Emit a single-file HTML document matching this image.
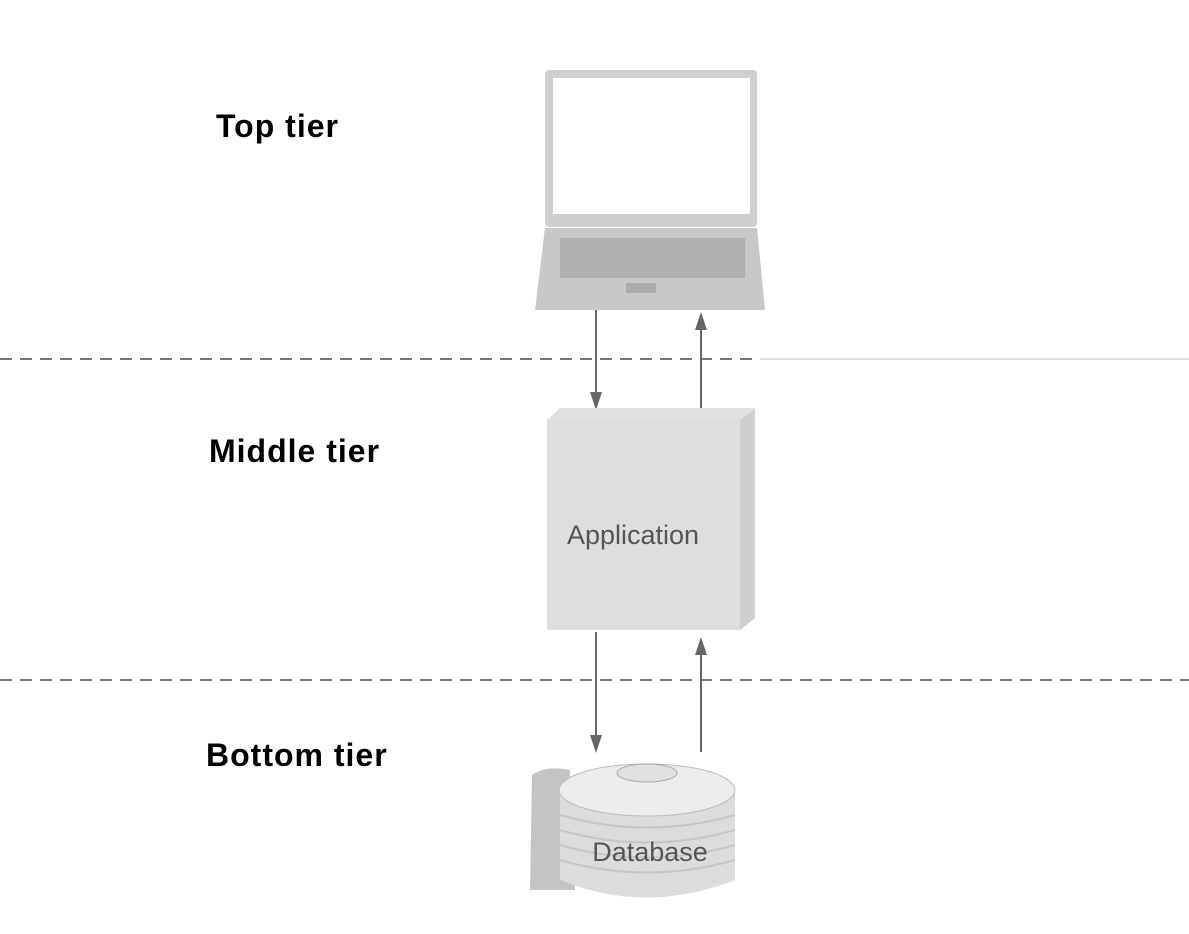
<!DOCTYPE html>
<html><head><style>
body{margin:0;background:#fff;}
svg{display:block}
.lbl{font-family:"Liberation Sans",sans-serif;font-weight:bold;font-size:32px;letter-spacing:1px;fill:#000}
</style></head><body>
<svg width="1189" height="934" viewBox="0 0 1189 934" xmlns="http://www.w3.org/2000/svg">
<text class="lbl" x="216" y="137">Top tier</text>
<text class="lbl" x="209" y="462">Middle tier</text>
<text class="lbl" x="206" y="766">Bottom tier</text>
<!-- dashed lines -->
<line x1="0" y1="359" x2="760" y2="359" stroke="#777" stroke-width="2" stroke-dasharray="12,8"/>
<line x1="760" y1="359" x2="1189" y2="359" stroke="#ddd" stroke-width="2"/>
<line x1="0" y1="680" x2="1189" y2="680" stroke="#777" stroke-width="2" stroke-dasharray="12,8"/>
<!-- laptop -->
<rect x="545" y="70" width="212" height="157" rx="4" fill="#cfcfcf"/>
<rect x="553" y="78" width="197" height="136" fill="#fff"/>
<path d="M545,228 L757,228 L765,310 L535,310 Z" fill="#c8c8c8"/>
<rect x="560" y="238" width="185" height="40" fill="#b0b0b0"/>
<rect x="626" y="283" width="30" height="10" fill="#aaa"/>
<!-- arrows top -->
<line x1="596" y1="310" x2="596" y2="398" stroke="#666" stroke-width="2"/>
<path d="M590,392 L602,392 L596,410 Z" fill="#666"/>
<line x1="701" y1="412" x2="701" y2="325" stroke="#666" stroke-width="2"/>
<path d="M695,330 L707,330 L701,312 Z" fill="#666"/>
<!-- application cube -->
<path d="M740,420 L755,408 L755,618 L740,630 Z" fill="#cfcfcf"/>
<path d="M547,420 L560,408 L755,408 L740,420 Z" fill="#e0e0e0"/>
<rect x="547" y="420" width="193" height="210" fill="#dedede"/>
<text x="633" y="544" text-anchor="middle" font-family="Liberation Sans,sans-serif" font-size="27" fill="#555">Application</text>
<!-- arrows bottom -->
<line x1="596" y1="632" x2="596" y2="740" stroke="#666" stroke-width="2"/>
<path d="M590,735 L602,735 L596,753 Z" fill="#666"/>
<line x1="701" y1="752" x2="701" y2="650" stroke="#666" stroke-width="2"/>
<path d="M695,655 L707,655 L701,637 Z" fill="#666"/>
<!-- database -->
<path d="M532,775 Q545,765 570,770 L575,890 L530,890 Z" fill="#c4c4c4"/>
<path d="M560,790 L560,880 Q645,915 735,880 L735,790 Z" fill="#dcdcdc"/>
<ellipse cx="647" cy="790" rx="88" ry="26" fill="#ececec" stroke="#bbb"/>
<ellipse cx="647" cy="773" rx="30" ry="9" fill="#e0e0e0" stroke="#aaa"/>
<g stroke="#c6c6c6" stroke-width="2" fill="none">
<path d="M560,815 Q647,840 735,815"/><path d="M560,830 Q647,855 735,830"/><path d="M560,845 Q647,870 735,845"/><path d="M560,860 Q647,885 735,860"/>
</g>
<text x="650" y="861" text-anchor="middle" font-family="Liberation Sans,sans-serif" font-size="27" fill="#555">Database</text>
</svg>
</body></html>
